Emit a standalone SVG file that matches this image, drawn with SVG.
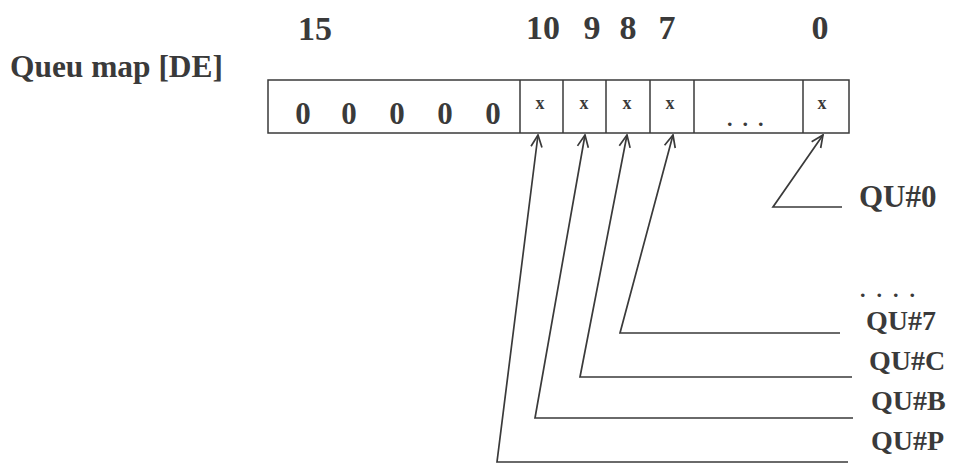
<svg xmlns="http://www.w3.org/2000/svg" width="954" height="470" viewBox="0 0 954 470">
<style>
  .t { font-family: "Liberation Serif", "DejaVu Serif", serif; font-weight: bold; fill: #3a3a3a; }
  .hdr { font-size: 34px; text-anchor: middle; }
  .zero { font-size: 31px; text-anchor: middle; }
  .x { font-size: 18px; text-anchor: middle; }
  .lbl { font-size: 28px; }
  .dots { font-size: 22px; }
  .cell { fill: none; stroke: #3a3a3a; stroke-width: 1.5; }
  .conn { fill: none; stroke: #3a3a3a; stroke-width: 1.7; }
</style>
<defs>
  <marker id="arr" viewBox="0 0 14 14" refX="13" refY="7" markerWidth="14" markerHeight="14" markerUnits="userSpaceOnUse" orient="auto">
    <path d="M1,1.5 L13,7 L1,12.5" fill="none" stroke="#3a3a3a" stroke-width="1.7"/>
  </marker>
</defs>
<rect width="954" height="470" fill="#ffffff"/>

<g id="title">
  <text class="t" x="10" y="77" font-size="31" textLength="213" lengthAdjust="spacingAndGlyphs">Queu map [DE]</text>
</g>

<g id="bit-numbers">
  <text class="t hdr" x="315" y="40">15</text>
  <text class="t hdr" x="543" y="39">10</text>
  <text class="t hdr" x="592" y="39">9</text>
  <text class="t hdr" x="628" y="39">8</text>
  <text class="t hdr" x="667" y="39">7</text>
  <text class="t hdr" x="820" y="39">0</text>
</g>

<g id="register">
  <rect class="cell" x="268" y="80" width="581" height="53"/>
  <line class="cell" x1="520" y1="80" x2="520" y2="133"/>
  <line class="cell" x1="563" y1="80" x2="563" y2="133"/>
  <line class="cell" x1="606" y1="80" x2="606" y2="133"/>
  <line class="cell" x1="650" y1="80" x2="650" y2="133"/>
  <line class="cell" x1="694" y1="80" x2="694" y2="133"/>
  <line class="cell" x1="803" y1="80" x2="803" y2="133"/>
  <text class="t zero" x="303" y="124">0</text>
  <text class="t zero" x="349" y="124">0</text>
  <text class="t zero" x="397" y="124">0</text>
  <text class="t zero" x="445" y="124">0</text>
  <text class="t zero" x="493" y="124">0</text>
  <text class="t x" x="540" y="109">x</text>
  <text class="t x" x="584" y="109">x</text>
  <text class="t x" x="627" y="109">x</text>
  <text class="t x" x="670" y="109">x</text>
  <text class="t x" x="822" y="109">x</text>
  <text class="t dots" x="727" y="126" letter-spacing="10">...</text>
</g>

<g id="connectors">
  <polyline class="conn" points="848,462 497,462 538,135" marker-end="url(#arr)"/>
  <polyline class="conn" points="853,418 535,418 585,135" marker-end="url(#arr)"/>
  <polyline class="conn" points="852,377 580,377 627,135" marker-end="url(#arr)"/>
  <polyline class="conn" points="840,333 620,333 673,135" marker-end="url(#arr)"/>
  <polyline class="conn" points="842,207 773,207 823,135" marker-end="url(#arr)"/>
</g>

<g id="qu0"><text class="t" x="859" y="207" font-size="31">QU#0</text></g>
<g id="qu-dots"><text class="t dots" x="860" y="297" letter-spacing="11">....</text></g>
<g id="qu7"><text class="t lbl" x="866" y="330">QU#7</text></g>
<g id="quC"><text class="t lbl" x="869" y="370">QU#C</text></g>
<g id="quB"><text class="t lbl" x="871" y="410">QU#B</text></g>
<g id="quP"><text class="t lbl" x="871" y="450">QU#P</text></g>
</svg>
